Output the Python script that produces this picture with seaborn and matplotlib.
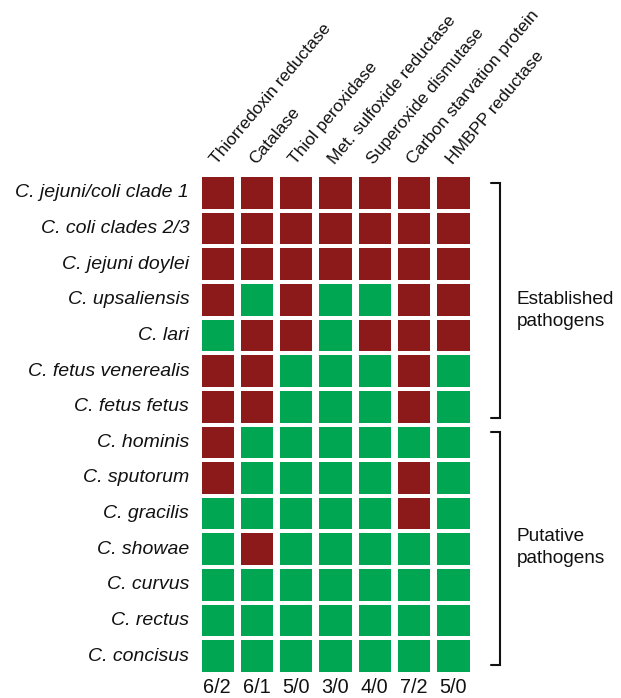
import numpy as np
import pandas as pd
import seaborn as sns
import matplotlib.pyplot as plt
from matplotlib.colors import ListedColormap

# ---- data ----
genes = ["Thiorredoxin reductase", "Catalase", "Thiol peroxidase",
         "Met. sulfoxide reductase", "Superoxide dismutase",
         "Carbon starvation protein", "HMBPP reductase"]
species = ["C. jejuni/coli clade 1", "C. coli clades 2/3", "C. jejuni doylei",
           "C. upsaliensis", "C. lari", "C. fetus venerealis", "C. fetus fetus",
           "C. hominis", "C. sputorum", "C. gracilis", "C. showae",
           "C. curvus", "C. rectus", "C. concisus"]
# 1 = present (red), 0 = absent (green)
presence = [
    [1, 1, 1, 1, 1, 1, 1],
    [1, 1, 1, 1, 1, 1, 1],
    [1, 1, 1, 1, 1, 1, 1],
    [1, 0, 1, 0, 0, 1, 1],
    [0, 1, 1, 0, 1, 1, 1],
    [1, 1, 0, 0, 0, 1, 0],
    [1, 1, 0, 0, 0, 1, 0],
    [1, 0, 0, 0, 0, 0, 0],
    [1, 0, 0, 0, 0, 1, 0],
    [0, 0, 0, 0, 0, 1, 0],
    [0, 1, 0, 0, 0, 0, 0],
    [0, 0, 0, 0, 0, 0, 0],
    [0, 0, 0, 0, 0, 0, 0],
    [0, 0, 0, 0, 0, 0, 0],
]
counts = ["6/2", "6/1", "5/0", "3/0", "4/0", "7/2", "5/0"]
groups = ["Established\npathogens", "Putative\npathogens"]

RED = "#8C1A1B"
GREEN = "#00A651"

sns.set_theme(style="white")
plt.rcParams['font.family'] = ['Liberation Sans', 'DejaVu Sans']

W, H = 621, 698
fig = plt.figure(figsize=(W / 100, H / 100), dpi=100)
ax = fig.add_axes([197.5 / W, 24 / H, 275 / W, 499 / H])

df = pd.DataFrame(presence, index=species, columns=genes)
sns.heatmap(df, ax=ax, cmap=ListedColormap([GREEN, RED]), vmin=0, vmax=1,
            cbar=False, linewidths=0, xticklabels=False, yticklabels=True)

# white gaps (wider between columns than between rows)
for x in range(len(genes) + 1):
    ax.axvline(x, color="white", lw=7 * 0.72)
for y in range(len(species) + 1):
    ax.axhline(y, color="white", lw=4 * 0.72)

ax.set_xlabel("")
ax.set_ylabel("")
ax.set_yticklabels(species, rotation=0, fontstyle="italic", fontsize=14,
                   color="#111111")
ax.tick_params(axis="y", length=0, pad=6)
ax.tick_params(axis="x", length=0)

# column labels (rotated, at top)
for i, g in enumerate(genes):
    ax.text(i + 0.55, -0.22, g, rotation=50, rotation_mode="anchor",
            ha="left", va="bottom", fontsize=12.5, color="#111111")

# counts below
for i, c in enumerate(counts):
    ax.text(i + 0.5, 14.53, c, ha="center", va="baseline", fontsize=14.3,
            color="#111111")

# brackets
brackets = [(0.22, 6.82), (7.21, 13.75)]
label_y = [3.8, 10.45]
for (y0, y1), label, ly in zip(brackets, groups, label_y):
    ax.plot([7.47, 7.7, 7.7, 7.47], [y0, y0, y1, y1], color="#111111",
            lw=1.5, clip_on=False, solid_joinstyle="miter")
    ax.text(8.13, ly, label, ha="left", va="center",
            fontsize=13.7, color="#111111", linespacing=1.4)

fig.savefig("out.png", dpi=100, facecolor="white")
